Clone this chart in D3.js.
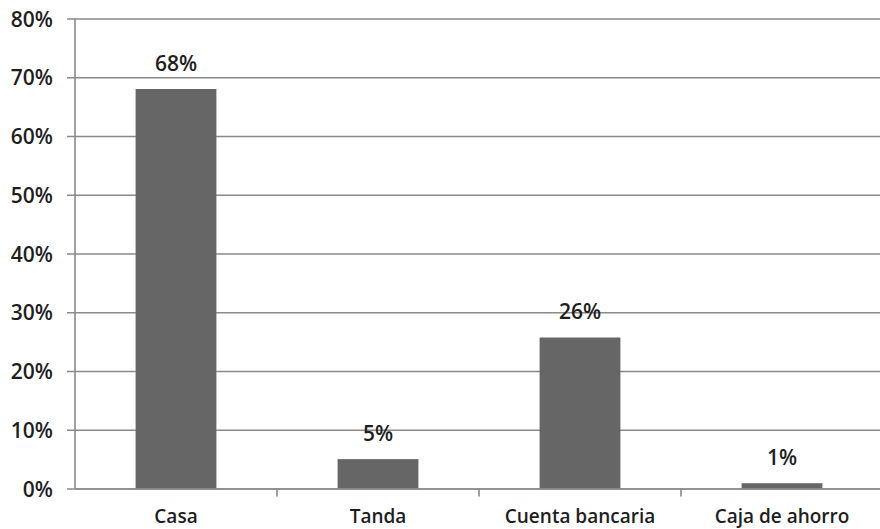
<!DOCTYPE html>
<html>
<head>
<meta charset="utf-8">
<script src="https://cdn.jsdelivr.net/npm/d3@7"></script>
<style>
  html, body { margin: 0; padding: 0; background: #fff; }
  svg { display: block; }
  text { font-family: "Open Sans", sans-serif; fill: #1e1e1e; }
</style>
</head>
<body>
<svg id="chart" width="880" height="529"></svg>
<script>
const categories = ["Casa", "Tanda", "Cuenta bancaria", "Caja de ahorro"];
const values = [0.68, 0.05, 0.257, 0.009];
const valueLabels = ["68%", "5%", "26%", "1%"];
const yTicks = [0, 0.1, 0.2, 0.3, 0.4, 0.5, 0.6, 0.7, 0.8];

const svg = d3.select("#chart");
const x0 = 75, x1 = 883, yTop = 18.5, yBottom = 488.5;

const x = d3.scaleBand().domain(categories).range([x0, x1])
  .paddingInner(0.6).paddingOuter(0.3);
const y = d3.scaleLinear().domain([0, 0.8]).range([yBottom, yTop]);

const lineColor = "#8a8a8a";

// gridlines + y axis ticks
const yAxis = d3.axisLeft(y).tickValues(yTicks).tickFormat(d3.format(".0%"))
  .tickSize(-(x1 - x0)).tickSizeOuter(0).tickPadding(14);
const gy = svg.append("g").attr("transform", `translate(${x0},0)`).call(yAxis);
gy.select(".domain").remove();
gy.selectAll(".tick line").attr("stroke", lineColor).attr("stroke-width", 1.6)
  .attr("x1", -8);
gy.selectAll(".tick text").attr("font-size", 21).attr("font-weight", 600)
  .attr("fill", "#1e1e1e").style("font-family", '"Open Sans", sans-serif')
  .attr("x", -22).attr("dy", "0.36em");

// vertical axis line
svg.append("line").attr("x1", x0).attr("x2", x0).attr("y1", yTop).attr("y2", yBottom)
  .attr("stroke", lineColor).attr("stroke-width", 1.6);

// bars
svg.selectAll("rect.bar").data(categories).join("rect").attr("class", "bar")
  .attr("x", d => x(d)).attr("width", x.bandwidth())
  .attr("y", (d, i) => y(values[i])).attr("height", (d, i) => yBottom - y(values[i]))
  .attr("fill", "#666666");

// x axis
const step = x.step();
const xAxis = d3.axisBottom(x).tickSize(0).tickPadding(0);
const gx = svg.append("g").attr("transform", `translate(0,${yBottom})`).call(xAxis);
gx.select(".domain").attr("stroke", lineColor).attr("stroke-width", 1.6);
gx.selectAll(".tick text").attr("font-size", 19).attr("font-weight", 600)
  .attr("fill", "#1e1e1e").style("font-family", '"Open Sans", sans-serif')
  .attr("dy", null).attr("y", 34.5);
// category separators
const seps = d3.range(1, categories.length + 1).map(k => x0 + k * step);
svg.selectAll("line.sep").data(seps).join("line").attr("class", "sep")
  .attr("x1", d => d).attr("x2", d => d).attr("y1", yBottom).attr("y2", yBottom + 8)
  .attr("stroke", lineColor).attr("stroke-width", 1.6);

// value labels
svg.selectAll("text.val").data(categories).join("text").attr("class", "val")
  .attr("x", d => x(d) + x.bandwidth() / 2)
  .attr("y", (d, i) => y(values[i]) - 18.5)
  .attr("text-anchor", "middle").attr("font-size", 21).attr("font-weight", 600)
  .text((d, i) => valueLabels[i]);
</script>
</body>
</html>
